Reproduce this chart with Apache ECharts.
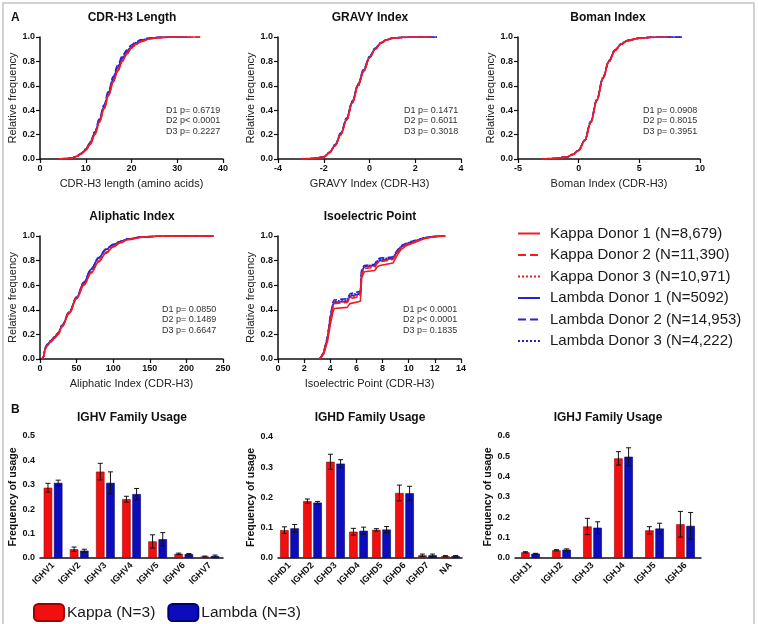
<!DOCTYPE html>
<html>
<head>
<meta charset="utf-8">
<script src="https://cdn.jsdelivr.net/npm/echarts@6/dist/echarts.min.js"></script>
<style>html,body{margin:0;padding:0;background:#fff}#main{width:758px;height:624px}</style>
</head>
<body>
<div id="main"></div>
<script>
var FONT = '"Liberation Sans", Arial, sans-serif';
var donorNames = ['Kappa Donor 1 (N=8,679)', 'Kappa Donor 2 (N=11,390)', 'Kappa Donor 3 (N=10,971)',
	'Lambda Donor 1 (N=5092)', 'Lambda Donor 2 (N=14,953)', 'Lambda Donor 3 (N=4,222)'];

// CDR-H3 length
var cdrX = [4,6,7,8,9,10,11,12,13,14,15,16,17,18,19,20,21,22,24,26,28,30,32,35];
var cdrK1 = [0,0.003,0.008,0.02,0.04,0.07,0.12,0.2,0.3,0.41,0.52,0.63,0.72,0.8,0.86,0.91,0.94,0.96,0.985,0.995,0.998,1,1,1];
var cdrK2 = [0,0.004,0.01,0.022,0.043,0.075,0.13,0.21,0.31,0.42,0.53,0.64,0.73,0.81,0.87,0.915,0.945,0.965,0.988,0.996,0.999,1,1,1];
var cdrK3 = [0,0.003,0.009,0.021,0.041,0.072,0.125,0.205,0.305,0.415,0.525,0.635,0.725,0.805,0.865,0.91,0.94,0.962,0.986,0.995,0.998,1,1,1];
var cdrL1 = [0,0.003,0.009,0.022,0.044,0.078,0.135,0.215,0.32,0.43,0.545,0.655,0.75,0.825,0.88,0.92,0.95,0.97,0.99,0.997,1,1,1];
var cdrL2 = [0,0.004,0.01,0.024,0.047,0.082,0.14,0.225,0.33,0.445,0.56,0.675,0.77,0.845,0.895,0.935,0.96,0.977,0.992,0.998,1,1];
var cdrL3 = [0,0.003,0.009,0.023,0.045,0.08,0.137,0.22,0.325,0.437,0.552,0.665,0.76,0.835,0.888,0.928,0.955,0.973,0.991,0.997,1,1,1];

// GRAVY index
var gravyX = [-3,-2.5,-2,-1.75,-1.5,-1.25,-1,-0.75,-0.5,-0.25,0,0.25,0.5,0.75,1,1.5,2,2.7,2.95];
var gravyK1 = [0,0.003,0.015,0.05,0.11,0.2,0.32,0.46,0.6,0.72,0.83,0.9,0.95,0.975,0.99,0.998,1,1];
var gravyK2 = [0,0.003,0.016,0.052,0.112,0.205,0.325,0.465,0.605,0.725,0.832,0.9,0.95,0.976,0.99,0.998,1,1];
var gravyK3 = [0,0.002,0.014,0.048,0.108,0.198,0.318,0.458,0.598,0.718,0.828,0.898,0.948,0.974,0.989,0.997,1,1];
var gravyL1 = [0,0.003,0.016,0.053,0.115,0.21,0.33,0.47,0.61,0.73,0.835,0.905,0.952,0.977,0.991,0.998,1,1,1];
var gravyL2 = [0,0.004,0.018,0.055,0.118,0.214,0.335,0.475,0.615,0.735,0.84,0.908,0.955,0.978,0.992,0.999,1,1,1];
var gravyL3 = [0,0.003,0.017,0.054,0.116,0.212,0.332,0.472,0.612,0.732,0.837,0.906,0.953,0.977,0.991,0.998,1,1,1];

// Boman index
var bomanX = [-3,-2,-1,-0.5,0,0.5,1,1.5,2,2.5,3,3.5,4,5,6,7.4,8.5];
var bomanK1 = [0,0.003,0.015,0.035,0.07,0.15,0.3,0.48,0.66,0.8,0.89,0.94,0.97,0.99,0.998,1];
var bomanK2 = [0,0.003,0.016,0.037,0.072,0.153,0.305,0.485,0.665,0.805,0.893,0.942,0.971,0.99,0.998,1];
var bomanK3 = [0,0.002,0.014,0.034,0.069,0.148,0.297,0.477,0.657,0.797,0.888,0.939,0.969,0.989,0.997,1];
var bomanL1 = [0,0.003,0.016,0.036,0.071,0.152,0.303,0.483,0.663,0.803,0.892,0.941,0.97,0.99,0.998,1,1];
var bomanL2 = [0,0.004,0.017,0.038,0.074,0.156,0.308,0.488,0.668,0.808,0.895,0.944,0.972,0.991,0.999,1,1];
var bomanL3 = [0,0.003,0.016,0.036,0.072,0.154,0.305,0.485,0.665,0.805,0.893,0.942,0.971,0.99,0.998,1,1];

// Aliphatic index
var aliX = [3,5,7,10,15,20,25,30,40,50,60,70,80,90,100,110,120,140,160,200,237];
var aliK1 = [0,0.02,0.08,0.11,0.14,0.17,0.2,0.26,0.37,0.49,0.6,0.7,0.79,0.86,0.91,0.945,0.97,0.99,0.998,1,1];
var aliK2 = [0,0.02,0.08,0.11,0.14,0.17,0.205,0.265,0.375,0.495,0.605,0.705,0.795,0.865,0.915,0.948,0.972,0.991,0.998,1,1];
var aliK3 = [0,0.02,0.085,0.115,0.145,0.175,0.205,0.265,0.38,0.5,0.61,0.71,0.8,0.87,0.918,0.95,0.973,0.991,0.998,1,1];
var aliL1 = [0,0.02,0.09,0.12,0.15,0.18,0.21,0.27,0.38,0.5,0.62,0.73,0.82,0.89,0.93,0.955,0.975,0.992,0.998,1,1];
var aliL2 = [0,0.02,0.09,0.12,0.15,0.18,0.215,0.275,0.385,0.505,0.625,0.735,0.825,0.893,0.932,0.957,0.976,0.993,0.999,1,1];
var aliL3 = [0,0.02,0.088,0.118,0.148,0.178,0.21,0.27,0.382,0.502,0.622,0.732,0.822,0.89,0.93,0.955,0.975,0.992,0.998,1,1];

// Isoelectric point
var pIX = [3.2,3.5,3.8,4.0,4.2,4.3,5.3,5.5,5.6,6.3,6.4,6.6,7.4,7.6,7.8,8.8,9.1,9.4,9.8,10.5,11.2,12.0,12.8];
var pIK1 = [0,0.04,0.15,0.28,0.38,0.41,0.42,0.45,0.46,0.47,0.66,0.71,0.72,0.75,0.76,0.78,0.84,0.89,0.92,0.95,0.98,0.995,1];
var pIK2 = [0,0.05,0.17,0.31,0.42,0.45,0.46,0.49,0.5,0.51,0.69,0.735,0.745,0.78,0.79,0.81,0.86,0.9,0.93,0.955,0.98,0.995,1];
var pIK3 = [0,0.05,0.18,0.32,0.43,0.46,0.47,0.5,0.51,0.52,0.7,0.745,0.755,0.785,0.795,0.815,0.865,0.905,0.93,0.958,0.982,0.996,1];
var pIL1 = [0,0.05,0.18,0.33,0.44,0.46,0.47,0.51,0.52,0.53,0.71,0.75,0.76,0.79,0.8,0.82,0.87,0.91,0.935,0.96,0.985,0.997,1];
var pIL2 = [0,0.06,0.19,0.35,0.46,0.48,0.49,0.53,0.54,0.55,0.73,0.76,0.77,0.81,0.82,0.83,0.88,0.92,0.94,0.965,0.985,0.997,1];
var pIL3 = [0,0.055,0.185,0.34,0.45,0.47,0.48,0.52,0.53,0.54,0.72,0.755,0.765,0.8,0.81,0.825,0.875,0.915,0.938,0.962,0.985,0.997,1];

// family usage (mean, error)
var barNames = ['Kappa (N=3)', 'Lambda (N=3)'];
var ighvCats = ['IGHV1','IGHV2','IGHV3','IGHV4','IGHV5','IGHV6','IGHV7'];
var ighvKappa = [0.288,0.036,0.354,0.241,0.068,0.017,0.006];
var ighvKappaErr = [0.018,0.009,0.034,0.012,0.027,0.003,0.002];
var ighvLambda = [0.308,0.030,0.308,0.262,0.077,0.016,0.008];
var ighvLambdaErr = [0.011,0.006,0.045,0.023,0.027,0.002,0.004];

var ighdCats = ['IGHD1','IGHD2','IGHD3','IGHD4','IGHD5','IGHD6','IGHD7','NA'];
var ighdKappa = [0.092,0.188,0.318,0.087,0.093,0.215,0.009,0.006];
var ighdKappaErr = [0.011,0.007,0.025,0.011,0.004,0.026,0.004,0.002];
var ighdLambda = [0.098,0.183,0.312,0.090,0.094,0.214,0.009,0.006];
var ighdLambdaErr = [0.013,0.004,0.013,0.012,0.010,0.023,0.004,0.002];

var ighjCats = ['IGHJ1','IGHJ2','IGHJ3','IGHJ4','IGHJ5','IGHJ6'];
var ighjKappa = [0.028,0.038,0.155,0.490,0.136,0.166];
var ighjKappaErr = [0.003,0.003,0.040,0.033,0.018,0.063];
var ighjLambda = [0.021,0.041,0.149,0.498,0.145,0.158];
var ighjLambdaErr = [0.002,0.004,0.029,0.044,0.026,0.066];

var RED = '#ee1c24', BLUE = '#2424d6';
var BAR_RED = '#f20f0f', BAR_BLUE = '#0c0cbc';
var BAR_W = 8.5, BAR_GAP = 0.2;

var chart = echarts.init(document.getElementById('main'));

var grids = [
	{left: 40, top: 37, width: 183, height: 122},
	{left: 278, top: 37, width: 183, height: 122},
	{left: 518, top: 37, width: 182, height: 122},
	{left: 40, top: 236, width: 183, height: 123},
	{left: 278, top: 236, width: 183, height: 123},
	{left: 40, top: 436, width: 183, height: 122},
	{left: 278, top: 437, width: 184, height: 121},
	{left: 515, top: 436, width: 186, height: 122}
];

var axisLine = {onZero: false, lineStyle: {color: '#111', width: 1.5}};
var axisTick = {inside: false, length: 4, lineStyle: {color: '#111', width: 1.2}};
var tickLabel = {fontFamily: FONT, fontSize: 9, fontWeight: 'bold', color: '#111', margin: 5};

function valX(i, min, max, step, name) {
	return {
		type: 'value', gridIndex: i, min: min, max: max, interval: step,
		name: name, nameLocation: 'middle', nameGap: 19,
		nameTextStyle: {fontFamily: FONT, fontSize: 11, color: '#222'},
		axisLine: axisLine, axisTick: axisTick, splitLine: {show: false},
		axisLabel: tickLabel
	};
}
function freqY(i) {
	return {
		type: 'value', gridIndex: i, min: 0, max: 1, interval: 0.2,
		name: 'Relative frequency', nameLocation: 'middle', nameGap: 22,
		nameTextStyle: {fontFamily: FONT, fontSize: 11, color: '#222'},
		axisLine: axisLine, axisTick: axisTick, splitLine: {show: false},
		axisLabel: Object.assign({formatter: function (v) { return v.toFixed(1); }}, tickLabel)
	};
}
function catX(i, cats) {
	return {
		type: 'category', gridIndex: i, data: cats,
		axisLine: axisLine, axisTick: Object.assign({alignWithLabel: true}, axisTick),
		axisLabel: Object.assign({}, tickLabel, {rotate: 45, interval: 0, margin: 6})
	};
}
function usageY(i, max) {
	return {
		type: 'value', gridIndex: i, min: 0, max: max, interval: 0.1,
		name: 'Frequency of usage', nameLocation: 'middle', nameGap: 21,
		nameTextStyle: {fontFamily: FONT, fontSize: 10.5, fontWeight: 'bold', color: '#111'},
		axisLine: axisLine, axisTick: axisTick, splitLine: {show: false},
		axisLabel: Object.assign({formatter: function (v) { return v.toFixed(1); }}, tickLabel)
	};
}

var xAxes = [
	valX(0, 0, 40, 10, 'CDR-H3 length (amino acids)'),
	valX(1, -4, 4, 2, 'GRAVY Index (CDR-H3)'),
	valX(2, -5, 10, 5, 'Boman Index (CDR-H3)'),
	valX(3, 0, 250, 50, 'Aliphatic Index (CDR-H3)'),
	valX(4, 0, 14, 2, 'Isoelectric Point (CDR-H3)'),
	catX(5, ighvCats), catX(6, ighdCats), catX(7, ighjCats)
];
var yAxes = [freqY(0), freqY(1), freqY(2), freqY(3), freqY(4), usageY(5, 0.5), usageY(6, 0.4), usageY(7, 0.6)];

function pairs(xs, ys) {
	return ys.map(function (y, i) { return [xs[i], y]; });
}
var lineStyles = [
	{color: RED, type: 'solid'}, {color: RED, type: 'dashed'}, {color: RED, type: 'dotted'},
	{color: BLUE, type: 'solid'}, {color: BLUE, type: 'dashed'}, {color: BLUE, type: 'dotted'}
];
var series = [];
function addCdf(gi, xs, sets, smooth) {
	// blue first so the red curves lie on top
	[3, 4, 5, 2, 1, 0].forEach(function (k) {
		series.push({
			type: 'line', name: donorNames[k], xAxisIndex: gi, yAxisIndex: gi,
			data: pairs(xs, sets[k]), symbol: 'none', smooth: smooth ? 0.35 : false,
			smoothMonotone: 'x', color: lineStyles[k].color,
			lineStyle: {color: lineStyles[k].color, type: lineStyles[k].type, width: 1.6},
			animation: false
		});
	});
}
addCdf(0, cdrX, [cdrK1, cdrK2, cdrK3, cdrL1, cdrL2, cdrL3], true);
addCdf(1, gravyX, [gravyK1, gravyK2, gravyK3, gravyL1, gravyL2, gravyL3], true);
addCdf(2, bomanX, [bomanK1, bomanK2, bomanK3, bomanL1, bomanL2, bomanL3], true);
addCdf(3, aliX, [aliK1, aliK2, aliK3, aliL1, aliL2, aliL3], true);
addCdf(4, pIX, [pIK1, pIK2, pIK3, pIL1, pIL2, pIL3], false);

function errRender(offset) {
	return function (params, api) {
		var c = api.value(0);
		var hi = api.coord([c, api.value(2)]);
		var lo = api.coord([c, api.value(1)]);
		var x = hi[0] + offset;
		var cap = 2.5;
		var st = {stroke: '#111', lineWidth: 1};
		return {type: 'group', children: [
			{type: 'line', shape: {x1: x, y1: hi[1], x2: x, y2: lo[1]}, style: st},
			{type: 'line', shape: {x1: x - cap, y1: hi[1], x2: x + cap, y2: hi[1]}, style: st},
			{type: 'line', shape: {x1: x - cap, y1: lo[1], x2: x + cap, y2: lo[1]}, style: st}
		]};
	};
}
function addBars(gi, kappa, kErr, lambda, lErr) {
	var off = BAR_W / 2 + BAR_W * BAR_GAP / 2;
	series.push({
		type: 'bar', name: barNames[0], xAxisIndex: gi, yAxisIndex: gi, data: kappa,
		barWidth: BAR_W, barGap: (BAR_GAP * 100) + '%',
		itemStyle: {color: BAR_RED, borderColor: '#a00000', borderWidth: 0.6}, animation: false
	});
	series.push({
		type: 'bar', name: barNames[1], xAxisIndex: gi, yAxisIndex: gi, data: lambda,
		barWidth: BAR_W, barGap: (BAR_GAP * 100) + '%',
		itemStyle: {color: BAR_BLUE, borderColor: '#000070', borderWidth: 0.6}, animation: false
	});
	[[kappa, kErr, -off], [lambda, lErr, off]].forEach(function (s) {
		series.push({
			type: 'custom', xAxisIndex: gi, yAxisIndex: gi, z: 5, animation: false,
			renderItem: errRender(s[2]), encode: {x: 0, y: [1, 2]},
			data: s[0].map(function (v, i) { return [i, v - s[1][i], v + s[1][i]]; })
		});
	});
}
addBars(5, ighvKappa, ighvKappaErr, ighvLambda, ighvLambdaErr);
addBars(6, ighdKappa, ighdKappaErr, ighdLambda, ighdLambdaErr);
addBars(7, ighjKappa, ighjKappaErr, ighjLambda, ighjLambdaErr);

function label(x, y, text, font, align) {
	return {type: 'text', x: x, y: y, silent: true,
		style: {text: text, font: font, fill: '#111', align: align || 'left', verticalAlign: 'middle'}};
}
function pvals(x, y, lines) {
	return {type: 'text', x: x, y: y, silent: true,
		style: {text: lines.join('\n'), font: '9px ' + FONT, fill: '#333', lineHeight: 10.5}};
}
var TITLE = 'bold 12px ' + FONT;
var graphics = [
	{type: 'rect', shape: {x: 3, y: 3, width: 751, height: 640}, style: {fill: 'none', stroke: '#c4c4c4', lineWidth: 1.5}, silent: true},
	label(11, 18, 'A', 'bold 12px ' + FONT),
	label(11, 410, 'B', 'bold 12px ' + FONT),
	label(132, 18, 'CDR-H3 Length', TITLE, 'center'),
	label(370, 18, 'GRAVY Index', TITLE, 'center'),
	label(608, 18, 'Boman Index', TITLE, 'center'),
	label(132, 217, 'Aliphatic Index', TITLE, 'center'),
	label(370, 217, 'Isoelectric Point', TITLE, 'center'),
	label(132, 418, 'IGHV Family Usage', TITLE, 'center'),
	label(370, 418, 'IGHD Family Usage', TITLE, 'center'),
	label(608, 418, 'IGHJ Family Usage', TITLE, 'center'),
	pvals(166, 105, ['D1 p= 0.6719', 'D2 p< 0.0001', 'D3 p= 0.2227']),
	pvals(404, 105, ['D1 p= 0.1471', 'D2 p= 0.6011', 'D3 p= 0.3018']),
	pvals(643, 105, ['D1 p= 0.0908', 'D2 p= 0.8015', 'D3 p= 0.3951']),
	pvals(162, 304, ['D1 p= 0.0850', 'D2 p= 0.1489', 'D3 p= 0.6647']),
	pvals(403, 304, ['D1 p< 0.0001', 'D2 p< 0.0001', 'D3 p= 0.1835'])
];

chart.setOption({
	backgroundColor: '#fff',
	animation: false,
	textStyle: {fontFamily: FONT},
	grid: grids,
	xAxis: xAxes,
	yAxis: yAxes,
	legend: [
		{
			data: donorNames, orient: 'vertical', left: 512, top: 221,
			itemWidth: 22, itemHeight: 12, itemGap: 6.5, selectedMode: false,
			itemStyle: {opacity: 0},
			textStyle: {fontFamily: FONT, fontSize: 15, color: '#1a1a1a', padding: [0, 0, 0, 5]}
		},
		{
			data: barNames, orient: 'horizontal', left: 28, top: 598,
			itemWidth: 30, itemHeight: 17, itemGap: 12, icon: 'roundRect', selectedMode: false,
			textStyle: {fontFamily: FONT, fontSize: 15.5, color: '#1a1a1a', padding: [0, 0, 0, -2]}
		}
	],
	graphic: graphics,
	series: series
});
</script>
</body>
</html>
